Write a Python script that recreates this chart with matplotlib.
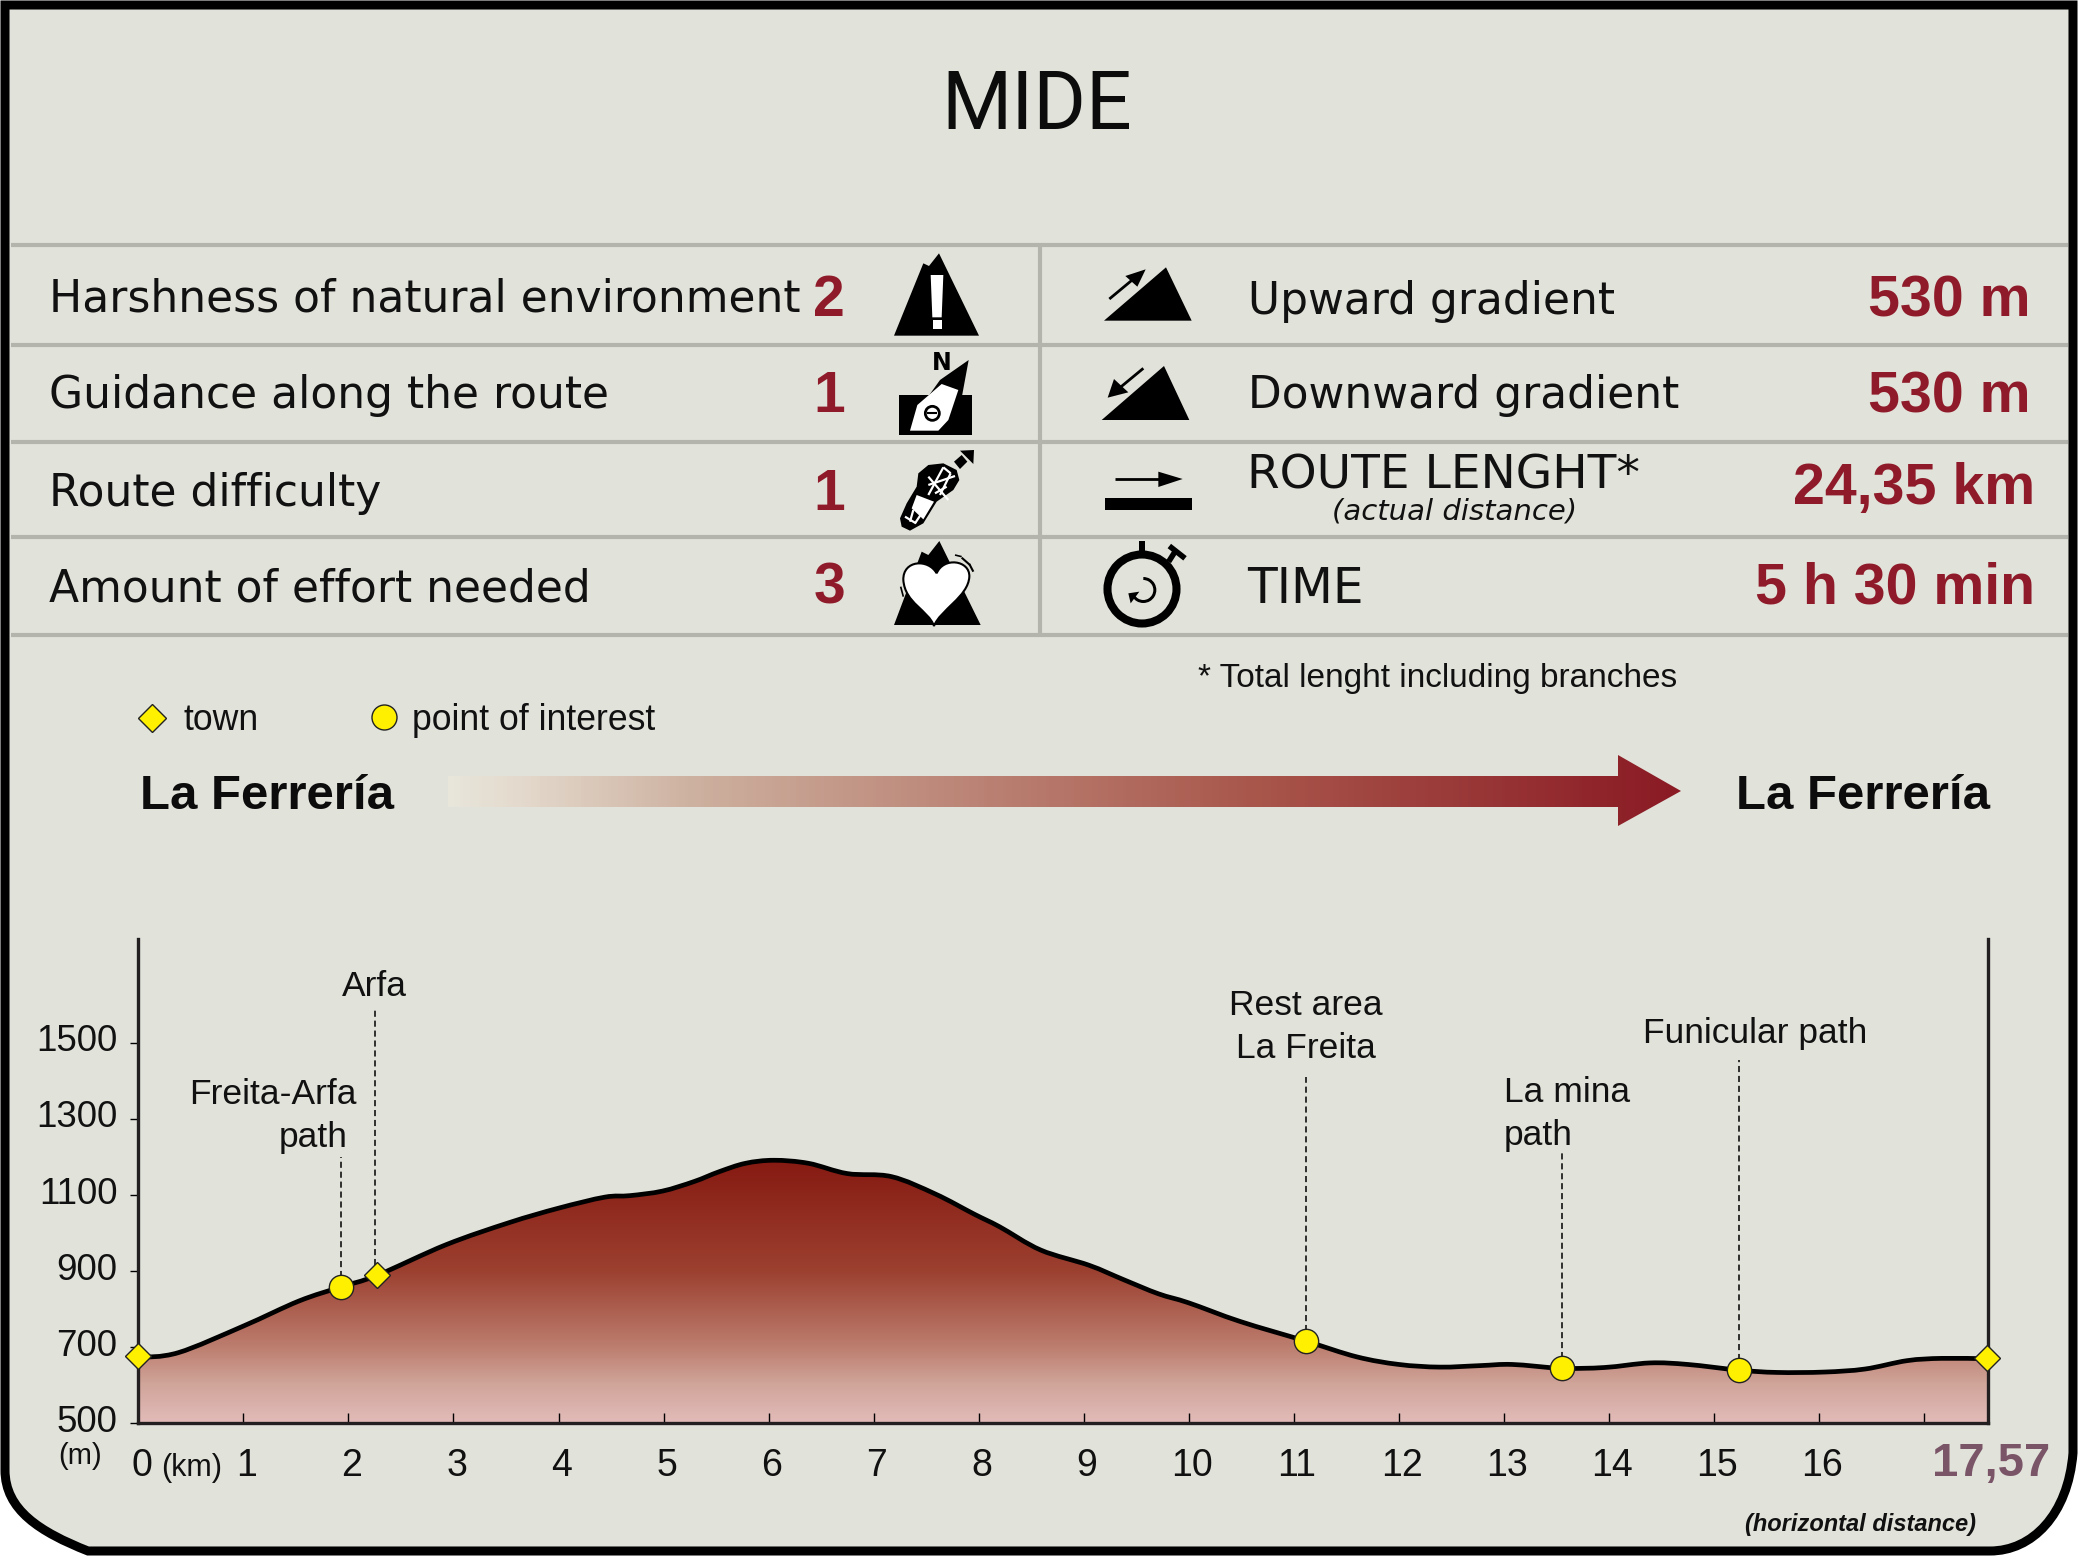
import numpy as np
import matplotlib
matplotlib.use("Agg")
import matplotlib.pyplot as plt
from matplotlib.colors import LinearSegmentedColormap
from matplotlib.patches import Circle, PathPatch, Polygon, Wedge
from matplotlib.path import Path
from matplotlib.transforms import ScaledTranslation

W, H = 2078, 1556
PANEL = "#E1E3DA"
GRID = "#B3B4AC"
RED = "#8F1B2A"
YELLOW = "#FFF000"
SANS = "Liberation Sans"
VERDANA = "DejaVu Sans"

# elevation profile
km = [0, 0.38, 1.0, 1.53, 1.93, 2.27, 2.93, 3.53, 4.0, 4.44, 4.68, 4.99, 5.29, 5.53, 5.78,
      6.05, 6.38, 6.75, 7.17, 7.59, 7.96, 8.2, 8.59, 9.05, 9.38, 9.71, 10.0, 10.49, 11.12,
      11.6, 12.0, 12.39, 12.78, 13.08, 13.55, 13.96, 14.39, 14.75, 15.24, 15.6, 16.05,
      16.44, 16.84, 17.17, 17.6]
elev = [672, 685, 755, 821, 858, 888, 969, 1027, 1065, 1094, 1098, 1110, 1135, 1161, 1183,
        1191, 1183, 1156, 1148, 1102, 1049, 1016, 955, 915, 877, 840, 816, 767, 715,
        674, 654, 647, 651, 654, 644, 646, 658, 654, 639, 633, 634,
        642, 664, 670, 669]

town_km = [0.0, 2.27, 17.6]
town_elev = [677, 888, 672]
poi_km = [1.93, 11.12, 13.55, 15.24]
poi_elev = [858, 715, 644, 639]

leader_km = [1.93, 2.255, 11.12, 13.55, 15.24]
leader_low = [858, 888, 715, 644, 639]
leader_top = [1200, 1593, 1411, 1219, 1454]

y_ticks = [500, 700, 900, 1100, 1300, 1500]
x_ticks = list(range(0, 18))
x_labels = [str(k) for k in range(0, 17)] + [""]

left_rows = ["Harshness of natural environment", "Guidance along the route",
             "Route difficulty", "Amount of effort needed"]
left_values = ["2", "1", "1", "3"]
right_values = ["530 m", "530 m", "24,35 km", "5 h 30 min"]

fig = plt.figure(figsize=(W / 100, H / 100), dpi=100, facecolor="white")
bg = fig.add_axes([0, 0, 1, 1])
bg.set_xlim(0, W)
bg.set_ylim(H, 0)
bg.axis("off")


def z(x, y):
    # coordinates measured on the icon crop
    return 860 + x / 3, 240 + y / 3


def poly(points, color="black", **kw):
    bg.add_patch(Polygon([z(*p) for p in points], closed=True, fc=color, ec="none", **kw))


def seg(a, b, lw=1.5, color="black"):
    xa, ya = z(*a)
    xb, yb = z(*b)
    bg.plot([xa, xb], [ya, yb], color=color, lw=lw, solid_capstyle="butt")


def smooth_path(xs, ys):
    # bezier through the read points so the ridge is not drawn with corners
    pts = np.column_stack([xs, ys])
    verts = [pts[0]]
    for i in range(len(pts) - 1):
        before = pts[max(i - 1, 0)]
        after = pts[min(i + 2, len(pts) - 1)]
        verts.append(pts[i] + (pts[i + 1] - before) / 6)
        verts.append(pts[i + 1] - (after - pts[i]) / 6)
        verts.append(pts[i + 1])
    return np.array(verts)


# panel with the black frame, only the bottom corners are rounded
verts = [(5, 5), (2073, 5), (2073, 1453), (2068, 1515), (2032, 1551), (1990, 1551),
         (88, 1551), (40, 1532), (5, 1510), (5, 1470), (5, 5)]
codes = [Path.MOVETO, Path.LINETO, Path.LINETO, Path.CURVE4, Path.CURVE4, Path.CURVE4,
         Path.LINETO, Path.CURVE4, Path.CURVE4, Path.CURVE4, Path.CLOSEPOLY]
bg.add_patch(PathPatch(Path(verts, codes), fc=PANEL, ec="black", lw=6.5, joinstyle="miter"))

# table rules
for y in [245, 345, 442, 537, 635]:
    bg.plot([11, 2068], [y, y], color=GRID, lw=3, solid_capstyle="butt")
bg.plot([1040, 1040], [245, 635], color=GRID, lw=3, solid_capstyle="butt")

bg.text(1037, 107, "MIDE", family="Roboto", fontsize=58, ha="center", va="center", color="#0C0C0C")

for label, y in zip(left_rows, [299, 395, 493, 589]):
    bg.text(49, y, label, family=VERDANA, fontsize=31.7, ha="left", va="center", color="#111111")
for val, y in zip(left_values, [301, 397, 495, 588]):
    bg.text(829, y, val, family=SANS, fontsize=41, weight="bold", ha="center", va="center", color=RED)

bg.text(1248, 301, "Upward gradient", family=VERDANA, fontsize=31.6, va="center", color="#111111")
bg.text(1248, 395, "Downward gradient", family=VERDANA, fontsize=31.6, va="center", color="#111111")
bg.text(1247, 476, "ROUTE LENGHT*", family=VERDANA, fontsize=33.8, va="center", color="#111111")
bg.text(1455, 511, "(actual distance)", family=VERDANA, style="italic", fontsize=21, ha="center",
        va="center", color="#111111")
bg.text(1247, 589, "TIME", family=VERDANA, fontsize=35, va="center", color="#111111")
for val, x, y in zip(right_values, [2031, 2030, 2035, 2035], [301, 397, 489, 588]):
    bg.text(x, y, val, family=SANS, fontsize=41.2, weight="bold", ha="right", va="center", color=RED)

# warning icon
poly([(102, 287), (190, 70), (207, 78), (237, 40), (357, 287)])
poly([(212, 105), (250, 105), (245, 232), (217, 232)], "white")
poly([(218, 240), (246, 240), (246, 268), (218, 268)], "white")

# compass icon
poly([(118, 465), (336, 465), (336, 584), (118, 584)])
poly([(190, 490), (240, 420), (326, 360), (302, 490), (265, 545)])
poly([(150, 572), (172, 495), (245, 432), (295, 450), (265, 540), (235, 572)], "white")
bg.text(*z(246, 368), "N", family=VERDANA, fontsize=17, weight="bold", ha="center", va="center")
bg.add_patch(Circle(z(217, 520), 7, fc="white", ec="black", lw=2))
seg((202, 520), (232, 520), lw=1.5)

# boot icon
poly([(120, 835), (140, 790), (170, 740), (175, 700), (205, 675), (250, 670), (290, 690),
      (298, 720), (280, 750), (230, 785), (190, 850), (150, 872), (125, 860)])
poly([(282, 665), (305, 645), (322, 665), (300, 687)])
poly([(300, 632), (342, 630), (340, 672)])
poly([(170, 765), (222, 785), (190, 838), (155, 805)], "white")
for a, b in [((205, 710), (265, 780)), ((250, 682), (205, 765)), ((272, 700), (240, 765)),
             ((205, 735), (285, 708)), ((225, 760), (260, 740)), ((250, 682), (272, 700)),
             ((135, 830), (168, 850)), ((160, 810), (150, 845)), ((185, 820), (165, 850))]:
    seg(a, b, lw=1.6, color="white")

# effort icon
poly([(102, 1155), (185, 935), (205, 945), (238, 903), (362, 1155)])
hx = [z(*p) for p in [(230, 1000), (205, 955), (128, 960), (130, 1020), (135, 1090), (205, 1110),
                      (222, 1158), (240, 1110), (325, 1070), (328, 1010), (330, 960), (250, 950),
                      (230, 1000)]]
hc = [Path.MOVETO] + [Path.CURVE4] * 12
bg.add_patch(PathPatch(Path(hx, hc), fc="white", ec="black", lw=1.5))
seg((285, 945), (305, 950), lw=1.2)
seg((305, 953), (330, 975), lw=1.5)
seg((328, 972), (340, 995), lw=1.5)
seg((122, 1040), (130, 1070), lw=1.2)

# gradient icons
poly([(732, 242), (918, 82), (995, 242)])
seg((748, 177), (825, 113), lw=2)
poly([(796, 108), (857, 88), (832, 140)])
poly([(725, 540), (912, 378), (988, 540)])
seg((850, 385), (775, 447), lw=2)
poly([(743, 473), (762, 417), (805, 457)])

# length icon
seg((765, 717), (900, 717), lw=2)
poly([(895, 695), (968, 717), (895, 741)])
poly([(736, 775), (996, 775), (996, 811), (736, 811)])

# stopwatch icon
cx, cy = z(846, 1047)
bg.add_patch(Circle((cx, cy), 34.5, fc="none", ec="black", lw=5.8))
poly([(838, 902), (854, 902), (854, 938), (838, 938)])
seg((926, 965), (945, 935), lw=4)
seg((928, 918), (975, 955), lw=4)
bg.add_patch(Wedge(z(850, 1050), 13, -90, 150, width=3, fc="black", ec="none"))
poly([(805, 1060), (838, 1055), (812, 1090)])

# legend, route arrow
bg.text(184, 720, "town", family=SANS, fontsize=25.7, va="center", color="#111111")
bg.text(412, 720, "point of interest", family=SANS, fontsize=25.7, va="center", color="#111111")
bg.plot([152], [718], marker="D", ms=14.3, mfc=YELLOW, mec="#222222", mew=1)
bg.plot([384], [717], marker="o", ms=18, mfc=YELLOW, mec="#222222", mew=1)
bg.text(1198, 678, "* Total lenght including branches", family=SANS, fontsize=24, va="center", color="#111111")

bg.text(140, 796, "La Ferrería", family=SANS, fontsize=35.4, weight="bold", va="center", color="#0C0C0C")
bg.text(1736, 796, "La Ferrería", family=SANS, fontsize=35.4, weight="bold", va="center", color="#0C0C0C")

arrow_cmap = LinearSegmentedColormap.from_list(
    "arrow", [(0, "#E8E5DA"), (0.05, "#E4DBCE"), (0.2, "#CDB09F"), (0.65, "#A9574C"), (1, "#8A1A24")])
arrow_im = bg.imshow(np.linspace(0, 1, 400)[None, :], extent=(448, 1681, 830, 750), cmap=arrow_cmap,
                     aspect="auto", zorder=2)
arrow_clip = Polygon([(448, 776), (1618, 776), (1618, 755), (1681, 791), (1618, 826), (1618, 807), (448, 807)],
                     closed=True, transform=bg.transData, fc="none", ec="none")
bg.add_patch(arrow_clip)
arrow_im.set_clip_path(arrow_clip)
bg.set_xlim(0, W)
bg.set_ylim(H, 0)

# chart texts sit on the pixel layer
for txt, x, y in [("Arfa", 374, 986), ("Freita-Arfa", 273, 1094), ("path", 313, 1137),
                  ("Rest area", 1306, 1005), ("La Freita", 1306, 1048), ("Funicular path", 1755, 1033)]:
    bg.text(x, y, txt, family=SANS, fontsize=25.5, ha="center", va="center", color="#111111")
for txt, y in [("La mina", 1092), ("path", 1135)]:
    bg.text(1504, y, txt, family=SANS, fontsize=25.5, va="center", color="#111111")
bg.text(80, 1456, "(m)", family=SANS, fontsize=21, ha="center", va="center", color="#111111")
bg.text(192, 1468, "(km)", family=SANS, fontsize=22, ha="center", va="center", color="#111111")
bg.text(2050, 1464, "17,57", family=SANS, fontsize=34, weight="bold", ha="right", va="center", color="#7A5568")
bg.text(1976, 1524, "(horizontal distance)", family=SANS, fontsize=17, weight="bold", style="italic",
        ha="right", va="center", color="#111111")

# profile chart
ax_left, ax_right, ax_top, ax_bottom = 138.4, 1988, 939, 1423
ax = fig.add_axes([ax_left / W, 1 - ax_bottom / H, (ax_right - ax_left) / W, (ax_bottom - ax_top) / H])
ax.patch.set_alpha(0)
ax.set_xlim(0, 17.61)
ax.set_ylim(500, 1773)

cmap = LinearSegmentedColormap.from_list(
    "profile", [(0, "#E2BBB9"), (0.145, "#D0A59A"), (0.29, "#BC7D6E"), (0.58, "#9C4030"), (1, "#861A12")])
im = ax.imshow(np.linspace(0, 1, 300)[:, None], extent=(0, 17.6, 500, 1191), origin="lower", cmap=cmap,
               aspect="auto", zorder=1)

curve = smooth_path(km, elev)
curve_codes = [Path.MOVETO] + [Path.CURVE4] * (len(curve) - 1)
clip_verts = np.vstack([curve, [(17.6, 500), (0, 500), (0, 672)]])
clip_codes = curve_codes + [Path.LINETO, Path.LINETO, Path.CLOSEPOLY]
clip = PathPatch(Path(clip_verts, clip_codes), transform=ax.transData, fc="none", ec="none")
ax.add_patch(clip)
im.set_clip_path(clip)
ax.add_patch(PathPatch(Path(curve, curve_codes), fc="none", ec="black", lw=3.4, joinstyle="round", zorder=3))
ax.set_xlim(0, 17.61)
ax.set_ylim(500, 1773)

ax.vlines(leader_km, leader_low, leader_top, color="black", lw=1.1, linestyles=(0, (4, 2.5)), zorder=2)
ax.plot(town_km, town_elev, ls="none", marker="D", ms=13.5, mfc=YELLOW, mec="#222222", mew=1, clip_on=False, zorder=5)
ax.plot(poi_km, poi_elev, ls="none", marker="o", ms=17.5, mfc=YELLOW, mec="#222222", mew=1, zorder=5)

ax.spines["top"].set_visible(False)
for side in ["left", "right", "bottom"]:
    ax.spines[side].set_color("#231F20")
    ax.spines[side].set_linewidth(2.4)
ax.set_yticks(y_ticks)
ax.set_xticks(x_ticks)
ax.set_xticklabels(x_labels, family=SANS, fontsize=27, color="#111111")
ax.set_yticklabels(y_ticks, family=SANS, fontsize=26.5, color="#111111")
ax.tick_params(axis="y", direction="out", length=6, width=1, pad=9)
ax.tick_params(axis="x", direction="in", length=7, width=1, pad=18)
for lab in ax.get_yticklabels():
    lab.set_transform(lab.get_transform() + ScaledTranslation(0, 3.5 / 72, fig.dpi_scale_trans))
for lab in ax.get_xticklabels():
    lab.set_transform(lab.get_transform() + ScaledTranslation(2.2 / 72, 0, fig.dpi_scale_trans))

fig.savefig("out.png", dpi=100)
